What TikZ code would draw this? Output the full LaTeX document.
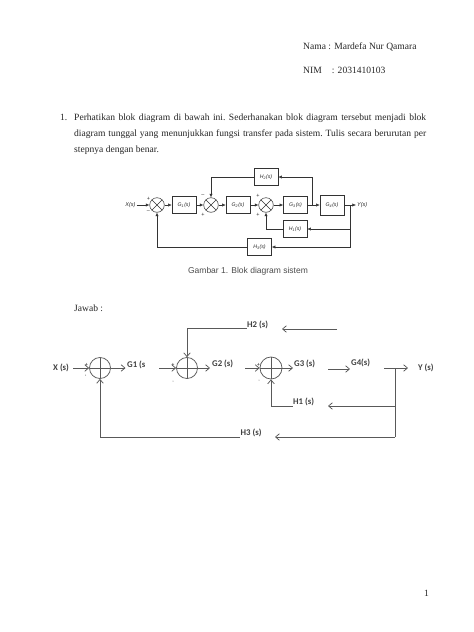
\documentclass[tikz,border=0pt]{standalone}
\usepackage{fontspec}
\setmainfont{Liberation Serif}
\newfontfamily\calfont{Carlito}
\newfontfamily\arialfont{Liberation Sans}
\usetikzlibrary{arrows.meta}
\begin{document}
\begin{tikzpicture}[x=1pt,y=-1pt,
  txt/.style={inner sep=0pt, anchor=base west, font=\fontsize{9.56}{16}\selectfont, text=black!85},
  blk/.style={draw=black!80, line width=0.5pt, minimum width=24pt, minimum height=17pt, inner sep=0pt, font=\arialfont\itshape\fontsize{5.2}{5.2}\selectfont, text=black!85},
  sumx/.style={draw=black!80, line width=0.5pt, circle, minimum size=14.6pt, inner sep=0pt,
    path picture={\draw[black!80,line width=0.5pt] (path picture bounding box.north west) -- (path picture bounding box.south east) (path picture bounding box.north east) -- (path picture bounding box.south west);}},
  tarr/.style={-{Latex[length=3.6pt,width=3.2pt]}, draw=black!80, line width=0.5pt},
  tsig/.style={inner sep=0pt, font=\arialfont\fontsize{5.5}{5.5}\selectfont, text=black!85},
  tlab/.style={inner sep=0pt, font=\arialfont\itshape\fontsize{5.5}{5.5}\selectfont, text=black!85},
  bsum/.style={draw=black!65, line width=0.75pt, circle, minimum size=21pt, inner sep=0pt,
    path picture={\draw[black!65,line width=0.75pt] (path picture bounding box.north) -- (path picture bounding box.south) (path picture bounding box.west) -- (path picture bounding box.east);}},
  barr/.style={-{Straight Barb[length=3.8pt,width=6.5pt]}, draw=black!65, line width=0.75pt},
  bln/.style={draw=black!65, line width=0.75pt},
  lbl/.style={font=\calfont\bfseries\fontsize{8.76}{8.76}\selectfont, text=black!75, inner sep=0pt, anchor=west},
  bsig/.style={inner sep=0pt, font=\calfont\bfseries\fontsize{5.5}{5.5}\selectfont, text=black!70},
  bdot/.style={fill=black!55, draw=none}
]
\fill[white] (0,0) rectangle (474,632);
\useasboundingbox (0,0) rectangle (474,632);

% header
\node[txt] (nama) at (303,49.5) {Nama : Mardefa Nur Qamara};
\node[txt] (nim) at (303,73) {NIM\hspace*{10.1pt}: 2031410103};

% question
\node[txt] (num) at (60,120.5) {1.};
\node[txt, text width=352pt, align=justify] (par) at (74,120.5) {\frenchspacing Perhatikan blok diagram di bawah ini. Sederhanakan blok diagram tersebut menjadi blok\linebreak diagram tunggal yang menunjukkan fungsi transfer pada sistem. Tulis secara berurutan per\linebreak stepnya dengan benar.};

% ===== top figure =====
\node[tlab] (xs) at (130.5,205) {X(s)};
\node[sumx] (s1) at (157,205) {};
\node[blk] (g1) at (184,205) {G\textsubscript{1}(s)};
\node[sumx] (s2) at (211,205) {};
\node[blk] (g2) at (238,205) {G\textsubscript{2}(s)};
\node[sumx] (s3) at (266,205) {};
\node[blk] (g3) at (295.5,205) {G\textsubscript{3}(s)};
\coordinate (b1) at (312,205);
\node[blk, minimum height=20pt] (g4) at (332,205) {G\textsubscript{4}(s)};
\coordinate (b2) at (350,205);
\coordinate (yend) at (356,205);
\node[tlab, anchor=west] (ys) at (357,205) {Y(s)};
\node[blk] (h2) at (266,177) {H\textsubscript{2}(s)};
\node[blk] (h1) at (295,229) {H\textsubscript{1}(s)};
\node[blk] (h3) at (259.5,247) {H\textsubscript{3}(s)};

\draw[tarr] ([xshift=1pt]xs.east) -- (s1.west);
\draw[tarr] (s1) -- (g1);
\draw[tarr] (g1) -- (s2);
\draw[tarr] (s2) -- (g2);
\draw[tarr] (g2) -- (s3);
\draw[tarr] (s3) -- (g3);
\draw[tarr] (g3) -- (g4);
\draw[tarr] (g4.east) -- (yend);
\draw[tarr] (b1) |- (h2.east);
\draw[tarr] (h2.west) -| (s2.north);
\draw[tarr] (b2) |- (h1.east);
\draw[tarr] (h1.west) -| (s3.south);
\draw[tarr] (b2) |- (h3.east);
\draw[tarr] (h3.west) -| (s1.south);

\node[tsig] (p1a) at (148.5,199) {+};
\node[tsig] (p1b) at (148.5,212) {–};
\node[tsig] (p2a) at (203,196) {–};
\node[tsig] (p2b) at (203,215) {+};
\node[tsig] (p3a) at (258,196) {+};
\node[tsig] (p3b) at (258,215) {+};

\node[inner sep=0pt, font=\arialfont\fontsize{8.5}{8.5}\selectfont, text=black!70] (cap) at (248,271) {Gambar 1. Blok diagram sistem};

% answer
\node[txt] (jawab) at (74,311.5) {Jawab :};

% ===== bottom diagram =====
\node[lbl] (bx) at (53,368) {X (s)};
\node[bsum] (c1) at (100,368) {};
\draw[barr] ([xshift=4pt]bx.east) -- (c1.west);
\coordinate (e1) at (125.5,368);
\draw[barr] (c1) -- (e1);
\node[lbl] (bg1) at (127,365) {G1 (s};

\coordinate (i2) at (159,368);
\node[bsum] (c2) at (187,368) {};
\draw[barr] (i2) -- (c2);
\coordinate (e2) at (210,368);
\draw[barr] (c2) -- (e2);
\node[lbl] (bg2) at (212,364) {G2 (s)};

\coordinate (i3) at (245,368);
\node[bsum, minimum size=22pt] (c3) at (271,368) {};
\draw[barr] (i3) -- (c3);
\coordinate (e3) at (293,368);
\draw[barr] (c3) -- (e3);
\node[lbl] (bg3) at (294,364) {G3 (s)};

\coordinate (i4) at (328,369);
\coordinate (e4) at (350,369);
\draw[barr] (i4) -- (e4);
\node[lbl] (bg4) at (351,363) {G4(s)};

\coordinate (i5) at (384,368);
\coordinate (e5) at (408,368);
\draw[barr] (i5) -- (e5);
\node[lbl] (by) at (418,368) {Y (s)};

\coordinate (br) at (395,368);
\coordinate (k1) at (395,406);
\coordinate (k3) at (395,437);
\draw[bln] (br) -- (k3);

\coordinate (h1e) at (328,406);
\draw[barr] (k1) -- (h1e);
\node[lbl] (bh1) at (293,402) {H1 (s)};
\coordinate (h1s) at (292.5,406);
\draw[barr] (h1s) -| (c3.south);

\coordinate (h3e) at (275,437);
\draw[barr] (k3) -- (h3e);
\node[lbl] (bh3) at (240.5,433) {H3 (s)};
\coordinate (h3s) at (240,437);
\draw[barr] (h3s) -| (c1.south);

\coordinate (h2b) at (337,329);
\coordinate (h2e) at (282,329);
\draw[barr] (h2b) -- (h2e);
\node[lbl] (bh2) at (247,325) {H2 (s)};
\coordinate (h2s) at (246.5,328.5);
\draw[barr] (h2s) -| (c2.north);

\node[bsig] (q1) at (86.5,364.5) {+};
\node[bsig] (q2) at (173,364.5) {+};
\node[bsig] (q3) at (258.5,364.5) {+};
\fill[bdot] (85.5,375) circle (0.5pt);
\fill[bdot] (173,381) circle (0.5pt);
\fill[bdot] (259,380) circle (0.5pt);

% page number
\node[txt] (pg) at (424,596.5) {1};
\end{tikzpicture}
\end{document}
